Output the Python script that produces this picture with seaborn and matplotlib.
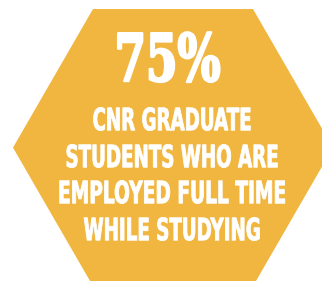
import matplotlib
matplotlib.use("Agg")
import matplotlib.pyplot as plt
import seaborn as sns
import numpy as np
from matplotlib.patches import RegularPolygon
from matplotlib.patheffects import AbstractPathEffect
from matplotlib.transforms import Affine2D

# data
pct_value = 75
label_lines = ["CNR GRADUATE", "STUDENTS WHO ARE", "EMPLOYED FULL TIME", "WHILE STUDYING"]

# layout (pixels, y down)
line_baselines = [130, 167, 203, 240]
line_widths = [159, 213, 228, 177]
pct_baseline = 81
pct_width = 106

gold = "#F1B63F"


class Stretch(AbstractPathEffect):
    # rescale the glyphs around (x0, y0) in display px, with an optional
    # outline of the same colour to make the strokes heavier
    def __init__(self, sx, sy, x0, y0, lw=0):
        super().__init__()
        self.sx, self.sy, self.x0, self.y0, self.lw = sx, sy, x0, y0, lw

    def draw_path(self, renderer, gc, tpath, affine, rgbFace=None):
        st = (Affine2D().translate(-self.x0, -self.y0)
              .scale(self.sx, self.sy).translate(self.x0, self.y0))
        g = renderer.new_gc()
        g.copy_properties(gc)
        if self.lw:
            g.set_linewidth(self.lw)
            g.set_foreground(rgbFace)
            g.set_joinstyle("round")
        renderer.draw_path(g, tpath, affine + st, rgbFace)
        g.restore()


sns.set_theme(style="white")
fig = plt.figure(figsize=(3.22, 2.81), dpi=100)
ax = fig.add_axes([0, 0, 1, 1])
ax.set_xlim(0, 322)
ax.set_ylim(281, 0)
ax.axis("off")

hexagon = RegularPolygon((173, 147.6), numVertices=6, radius=160,
                         orientation=np.pi / 6, facecolor=gold, edgecolor="none")
ax.add_patch(hexagon)

big = ax.text(167.5, pct_baseline, f"{pct_value}%", ha="center", va="baseline",
              color="white", fontsize=40, fontweight="bold", family="DejaVu Serif")
texts = [ax.text(172, b, s, ha="center", va="baseline", color="white",
                 fontsize=15, fontweight="bold", family="DejaVu Sans")
         for s, b in zip(label_lines, line_baselines)]

# cap heights: 0.729 em; px = pt * 100/72
big_sy = 48 / (0.729 * 40 * 100 / 72)
line_sy = 22.5 / (0.729 * 15 * 100 / 72)

fig.canvas.draw()
r = fig.canvas.get_renderer()
for t, w, sy, b, lw in zip([big] + texts, [pct_width] + line_widths,
                           [big_sy] + [line_sy] * 4, [pct_baseline] + line_baselines,
                           [1.6] + [0.6] * 4):
    bb = t.get_window_extent(r)
    x0 = bb.x0 + bb.width / 2
    y0 = ax.transData.transform((0, b - 0.5))[1]
    t.set_path_effects([Stretch(w / bb.width, sy, x0, y0, lw)])

fig.savefig("out.png", dpi=100)
